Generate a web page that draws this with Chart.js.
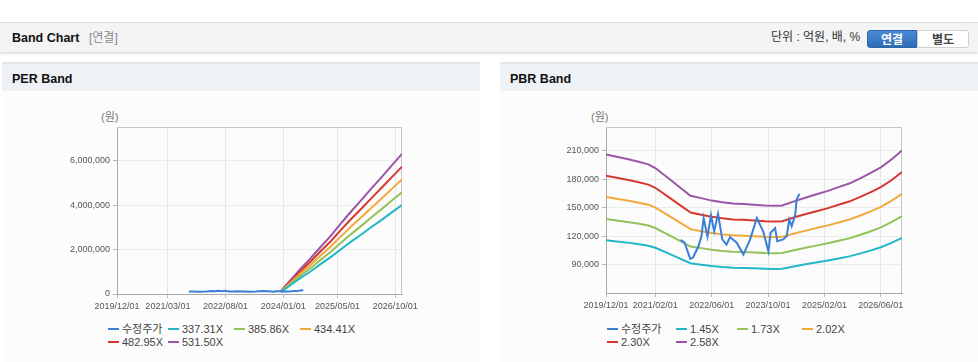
<!DOCTYPE html>
<html><head><meta charset="utf-8">
<script src="https://cdn.jsdelivr.net/npm/chart.js@4/dist/chart.umd.min.js"></script>
<style>
body{margin:0;width:978px;height:362px;background:#fff;position:relative;overflow:hidden;font-family:"Liberation Sans","Noto Sans CJK KR",sans-serif;}
.abs{position:absolute;}
#topbar{left:0;top:22px;width:978px;height:29px;background:#f4f4f4;border-top:1px solid #e2e2e2;box-shadow:0 2px 2px rgba(0,0,0,.13);}
.title{font-weight:bold;font-size:12.5px;color:#111;line-height:29px;white-space:nowrap;}
.sub{font-size:12px;color:#8a8a8a;line-height:29px;}
.unit{font-size:12px;color:#333;line-height:29px;}
.btn{top:7px;height:18px;line-height:18px;width:50px;text-align:center;font-size:12px;font-weight:bold;box-sizing:border-box;}
#b1{left:867px;background:linear-gradient(#4b8bd5,#2d6cb6);color:#fff;border-radius:3px 0 0 3px;border:1px solid #2c66a8;}
#b2{left:917px;width:52px;background:#fff;color:#444;border:1px solid #cfcfcf;border-radius:0 3px 3px 0;}
.phead{top:62px;height:27px;background:#eef1f6;border-top:2px solid #e1e5ec;}
.pbody{top:91px;height:271px;background:#fcfcfc;}
.unitlbl{font-size:11px;color:#777;top:108px;}
.leg{font-size:11px;color:#444;line-height:14px;height:14px;white-space:nowrap;}
.leg i{display:inline-block;width:11px;height:2px;vertical-align:middle;margin-right:3px;margin-top:-2px;}
canvas{position:absolute;}
</style></head><body>
<div id="topbar" class="abs">
  <div class="abs title" style="left:12px;top:1px">Band Chart</div>
  <div class="abs sub" style="left:89px;top:1px">[연결]</div>
  <div class="abs unit" style="left:771px;top:0">단위 : 억원, 배, %</div>
  <div id="b1" class="abs btn">연결</div>
  <div id="b2" class="abs btn">별도</div>
</div>
<div class="abs phead" style="left:2px;width:478px"><div class="abs title" style="left:10px;top:1px">PER Band</div></div>
<div class="abs pbody" style="left:2px;width:478px"></div>
<div class="abs phead" style="left:500px;width:478px"><div class="abs title" style="left:10px;top:1px">PBR Band</div></div>
<div class="abs pbody" style="left:500px;width:478px"></div>
<div class="abs unitlbl" style="left:101px">(원)</div>
<div class="abs unitlbl" style="left:591px">(원)</div>
<canvas id="per" width="480" height="230" style="left:0;top:91px"></canvas>
<canvas id="pbr" width="478" height="230" style="left:500px;top:91px"></canvas>
<div id="legPer"></div>
<div id="legPbr"></div>
<script>
// ---- data (x = months since 2019/12/01) ----
const priceLabel = '수정주가';
const priceMonths = [21.2,22.3,23.9,24.7,26.2,27.1,27.7,28.8,29.8,30.7,31.8,33.0,34.2,35.2,37.1,39.0,40.9,42.8,44.6,46.1,46.7,48.0,48.6,50.3,51.3,52.0,52.7,53.7,54.1,54.9];
const priceValues = [116000,113000,96000,97500,109000,120000,139000,119500,142000,125000,143500,116500,111000,119000,113000,100500,116500,139000,125000,104000,123500,128500,114500,116500,120000,137500,130500,142500,158500,164500];

const perLabels = ['337.31X','385.86X','434.41X','482.95X','531.50X'];
const perMonths = [48.3,51,54,57,60,63,66,69,72,75,78,81,84];
const per1 = [89000,381000,711000,1015000,1346000,1663000,2018000,2361000,2685000,3021000,3344000,3681000,4011000];
const per2 = [101000,436000,813000,1161000,1539000,1902000,2309000,2701000,3071000,3456000,3826000,4211000,4588000];
const per3 = [114000,490000,915000,1308000,1733000,2141000,2599000,3040000,3457000,3891000,4307000,4741000,5166000];
const per4 = [127000,545000,1018000,1454000,1926000,2380000,2889000,3380000,3844000,4325000,4788000,5270000,5743000];
const per5 = [140000,600000,1120000,1600000,2120000,2620000,3180000,3720000,4230000,4760000,5270000,5800000,6320000];

const pbrLabels = ['1.45X','1.73X','2.02X','2.30X','2.58X'];
const pbrMonths = [0,3,6,9,12,14,18,21,24,27,30,33,36,39,42,45,48,50,54,57,60,63,66,69,72,75,78,81,84];
const pbr1 = [115700,114400,113100,111700,109900,107700,101200,96300,91400,89900,88500,87400,86700,86400,86000,85600,85400,85600,88500,90500,92400,94300,96400,98600,101500,104700,108200,112800,118200];
const pbr2 = [138100,136500,134900,133200,131100,128500,120800,114900,109000,107300,105500,104300,103500,103100,102600,102100,101900,102100,105500,108000,110200,112500,115000,117600,121100,124900,129100,134600,141000];
const pbr3 = [161200,159400,157600,155500,153100,150100,141000,134100,127300,125200,123200,121800,120800,120400,119800,119200,119000,119200,123200,126000,128700,131300,134300,137400,141400,145800,150700,157200,164600];
const pbr4 = [183500,181500,179400,177100,174300,170900,160500,152700,144900,142600,140300,138700,137500,137100,136400,135700,135500,135700,140300,143500,146500,149500,153000,156400,161000,166100,171600,178900,187500];
const pbr5 = [205900,203600,201200,198700,195600,191700,180100,171300,162500,160000,157400,155600,154300,153800,153000,152200,152000,152200,157400,161000,164300,167700,171600,175400,180600,186300,192500,200700,210300];

const perXTicks = [0,15,32,49,65,82];
const pbrXTicks = [0,14,30,46,62,78];
const perYTicks = [0,2000000,4000000,6000000];
const pbrYTicks = [90000,120000,150000,180000,210000];

const colors = ['#3a7fd5','#22b6c8','#93c25a','#f3a83b','#d7382d','#9a55a8'];
const FONT = '"Liberation Sans","Noto Sans CJK KR",sans-serif';

function monthLabel(m){const t=11+m;const y=2019+Math.floor(t/12);const mo=t%12+1;return y+'/'+String(mo).padStart(2,'0')+'/01';}
function pts(xs,ys){return xs.map((x,i)=>({x:x,y:ys[i]}));}

const frame={id:'frame',beforeDatasetsDraw(c){const{ctx,chartArea:a}=c;ctx.save();ctx.strokeStyle='#c6c6c6';ctx.lineWidth=1;ctx.beginPath();ctx.moveTo(a.left,Math.round(a.top)+0.5);ctx.lineTo(Math.round(a.right)-0.5,Math.round(a.top)+0.5);ctx.lineTo(Math.round(a.right)-0.5,a.bottom);ctx.stroke();ctx.restore();}};

function build(id,xTicks,yMin,yMax,yTicks,datasets,pad,yW,xH){
  new Chart(document.getElementById(id),{
    type:'line',
    data:{datasets:datasets},
    options:{
      responsive:false,animation:false,devicePixelRatio:1,
      layout:{padding:pad},
      plugins:{legend:{display:false},tooltip:{enabled:false}},
      elements:{point:{radius:0},line:{borderWidth:2,tension:0}},
      scales:{
        x:{type:'linear',min:0,max:84,
          afterBuildTicks:a=>{a.ticks=xTicks.map(v=>({value:v}));},
          afterFit:a=>{a.height=xH;},
          ticks:{callback:v=>monthLabel(v),font:{size:9,family:FONT},color:'#555',maxRotation:0,autoSkip:false,padding:3},
          grid:{color:'#e6e6e6',tickColor:'#b8b8b8',tickLength:4},
          border:{color:'#aaa'}},
        y:{type:'linear',min:yMin,max:yMax,
          afterBuildTicks:a=>{a.ticks=yTicks.map(v=>({value:v}));},
          afterFit:a=>{a.width=yW;},
          ticks:{callback:v=>v.toLocaleString('en-US'),font:{size:9,family:FONT},color:'#555',padding:3},
          grid:{color:'#ececec',tickColor:'#b8b8b8',tickLength:4},
          border:{color:'#aaa'}}
      }
    },
    plugins:[frame]
  });
}
function ds(label,data,color){return {label:label,data:data,borderColor:color,backgroundColor:color,fill:false,pointRadius:0,borderWidth:2};}

const perSets=[ds(priceLabel,pts(priceMonths,priceValues),colors[0])].concat([per1,per2,per3,per4,per5].map((s,i)=>ds(perLabels[i],pts(perMonths,s),colors[i+1])));
const pbrSets=[ds(priceLabel,pts(priceMonths,priceValues),colors[0])].concat([pbr1,pbr2,pbr3,pbr4,pbr5].map((s,i)=>ds(pbrLabels[i],pts(pbrMonths,s),colors[i+1])));

build('per',perXTicks,0,7530000,perYTicks,perSets,{left:0,top:36,right:78,bottom:0},117,27);
build('pbr',pbrXTicks,60000,235000,pbrYTicks,pbrSets,{left:0,top:36,right:76,bottom:0},106,28);

function legend(el,labels,xs){
  const all=[priceLabel].concat(labels);
  let h='';
  all.forEach((t,i)=>{const row=i<4?0:1;const col=i<4?i:i-4;
    h+='<div class="abs leg" style="left:'+xs[col]+'px;top:'+(row?335:322)+'px"><i style="background:'+colors[i]+'"></i>'+t+'</div>';});
  document.getElementById(el).innerHTML=h;
}
legend('legPer',perLabels,[108,168,234,300]);
legend('legPbr',pbrLabels,[607,676,737,802]);
</script>
</body></html>
